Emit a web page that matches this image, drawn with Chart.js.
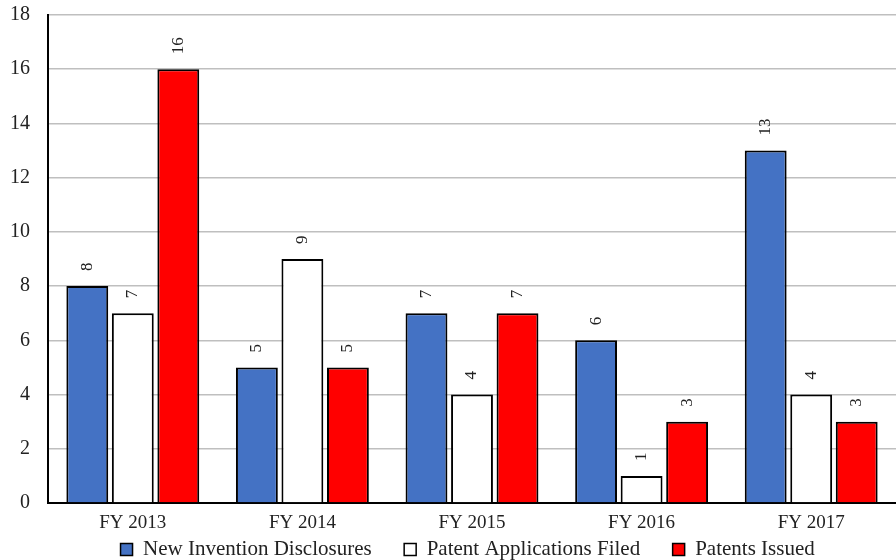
<!DOCTYPE html>
<html>
<head>
<meta charset="utf-8">
<script src="https://cdn.jsdelivr.net/npm/chart.js@4"></script>
<style>
  body { margin: 0; background: #fff; }
  #wrap { width: 896px; height: 560px; }
</style>
</head>
<body>
<div id="wrap"><canvas id="myChart"></canvas></div>
<script>
  const years = ['FY 2013', 'FY 2014', 'FY 2015', 'FY 2016', 'FY 2017'];
  const disclosures = [8, 5, 7, 6, 13];
  const applications = [7, 9, 4, 1, 4];
  const issued = [16, 5, 7, 3, 3];
  const yTicks = [0, 2, 4, 6, 8, 10, 12, 14, 16, 18];

  // value labels, turned on their side above each bar
  let sideLabels = {
    id: 'sideLabels',
    afterDatasetsDraw(chart) {
      let ctx = chart.ctx;
      ctx.save();
      ctx.font = '17px "Liberation Serif", "Times New Roman", serif';
      ctx.fillStyle = '#222';
      ctx.textAlign = 'left';
      ctx.textBaseline = 'middle';
      chart.data.datasets.forEach((ds, i) => {
        chart.getDatasetMeta(i).data.forEach((bar, j) => {
          ctx.save();
          ctx.translate(bar.x, bar.y - 15);
          ctx.rotate(-Math.PI / 2);
          ctx.fillText(String(ds.data[j]), 0, 0);
          ctx.restore();
        });
      });
      ctx.restore();
    }
  };

  // legend: wider gaps between entries, blank entry in front to push it right a bit
  function legendItems(chart) {
    let items = Chart.defaults.plugins.legend.labels.generateLabels(chart);
    items.forEach((it, i) => {
      it.lineWidth = 1.5;
      it.strokeStyle = '#000';
      if (i < items.length - 1) it.text += '      ';
    });
    items.unshift({ text: '   ', fillStyle: 'rgba(0,0,0,0)', strokeStyle: 'rgba(0,0,0,0)', lineWidth: 0, hidden: false });
    return items;
  }

  let ctx = document.getElementById('myChart').getContext('2d');
  let chart = new Chart(ctx, {
    type: 'bar',
    data: {
      labels: years,
      datasets: [{
        label: 'New Invention Disclosures',
        backgroundColor: '#4472c4',
        data: disclosures,
      }, {
        label: 'Patent Applications Filed',
        backgroundColor: '#ffffff',
        data: applications,
      }, {
        label: 'Patents Issued',
        backgroundColor: '#ff0000',
        data: issued,
      }]
    },
    options: {
      responsive: true,
      maintainAspectRatio: false,
      animation: false,
      layout: { padding: { top: 0, right: 0, left: 0, bottom: -10 } },
      datasets: {
        bar: {
          borderColor: '#000',
          borderWidth: 2,
          categoryPercentage: 0.805,
          barPercentage: 0.92,
        }
      },
      scales: {
        x: {
          afterFit: (scale) => { scale.height = 35; },
          grid: { display: false, drawTicks: false },
          border: { color: '#000', width: 2 },
          ticks: {
            color: '#222',
            font: { family: '"Liberation Serif", serif', size: 19, lineHeight: 1 },
            padding: 11,
          }
        },
        y: {
          min: 0,
          max: 18,
          afterBuildTicks: (axis) => { axis.ticks = yTicks.map(v => ({ value: v })); },
          afterFit: (scale) => { scale.width = 48; scale.paddingTop = 15; },
          grid: { color: '#bfbfbf', lineWidth: 1.5, drawTicks: false },
          border: { color: '#000', width: 2 },
          ticks: {
            color: '#222',
            font: { family: '"Liberation Serif", serif', size: 20, lineHeight: 1 },
            padding: 18,
          }
        }
      },
      plugins: {
        legend: {
          position: 'bottom',
          labels: {
            color: '#222',
            font: { family: '"Liberation Serif", serif', size: 21, lineHeight: 1 },
            boxWidth: 12,
            boxHeight: 12,
            padding: 1,
            generateLabels: legendItems,
          }
        },
        tooltip: { enabled: false }
      }
    },
    plugins: [sideLabels]
  });
</script>
</body>
</html>
